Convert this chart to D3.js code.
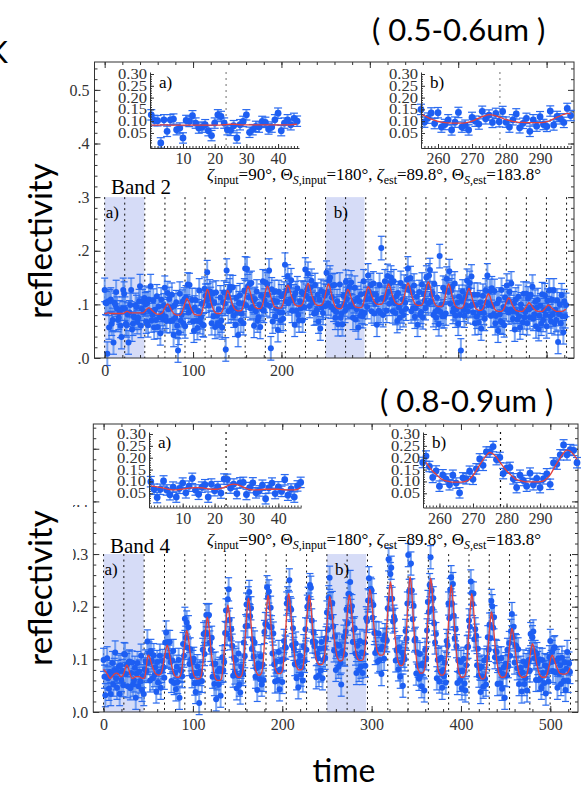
<!DOCTYPE html>
<html>
<head>
<meta charset="utf-8">
<title>Band 2 / Band 4 reflectivity</title>
<script src="https://cdn.jsdelivr.net/npm/d3@7/dist/d3.min.js"></script>
<style>
  body { margin: 0; background: #fff; }
  #chart svg { display: block; }
</style>
</head>
<body>
<div id="chart"></div>
<script>
// reflectivity per time step (t = 0, 1, 2, ...), in units of 0.001
const band2Refl = [
  127,103,102,8,106,57,106,109,64,71,29,103,99,123,92,71,75,85,60,39,
  92,127,120,92,64,61,81,29,85,99,127,53,64,78,75,99,95,67,75,106,
  134,60,92,106,85,112,100,68,102,61,109,88,134,70,80,107,57,90,71,115,
  58,96,76,46,109,82,72,98,131,77,69,121,91,110,69,94,118,70,43,98,
  75,104,60,14,47,120,70,80,105,65,109,59,113,96,137,85,136,88,90,108,
  68,51,94,108,70,56,87,126,67,76,101,62,61,129,116,107,160,117,98,124,
  110,65,120,78,104,58,122,79,65,91,61,113,70,57,104,122,101,16,163,115,
  87,126,133,88,94,132,79,93,62,113,85,43,102,117,70,83,102,65,126,167,
  98,166,134,113,138,93,140,95,107,60,110,87,124,70,76,100,58,116,91,143,
  88,107,141,100,137,118,163,97,18,128,68,107,123,78,92,106,52,123,85,70,
  115,85,73,120,174,106,126,152,102,135,109,145,88,107,115,62,121,88,130,80,
  70,106,93,122,70,120,94,165,116,128,157,111,97,132,144,103,110,83,136,84,
  90,118,68,109,55,125,94,84,122,116,97,159,122,102,144,150,96,113,135,90,
  136,75,86,106,63,96,137,75,83,63,116,100,88,142,110,126,95,133,98,141,
  96,75,106,131,72,91,112,57,106,79,119,86,78,143,84,120,110,95,154,124,
  110,136,87,119,139,83,102,118,62,109,88,136,84,205,112,80,110,143,114,88,
  153,123,101,139,150,110,87,143,102,84,115,69,121,94,75,140,87,109,80,133,
  103,92,146,167,127,130,149,87,122,93,135,77,93,114,62,101,123,80,86,137,
  76,120,107,93,150,133,102,154,164,106,118,121,80,138,86,75,113,90,63,190,
  86,100,78,131,78,124,83,148,126,123,162,101,126,133,86,93,139,79,91,103,
  64,114,80,14,107,124,90,79,114,98,144,87,129,140,97,152,100,85,118,65,
  99,77,118,66,84,104,55,94,116,84,73,126,104,154,99,101,125,79,130,97,
  81,125,65,79,102,51,109,81,68,127,66,95,61,113,91,135,106,85,123,90,
  139,87,73,102,53,109,86,72,114,78,57,100,90,66,120,76,86,120,65,111,
  91,76,118,94,133,73,81,105,59,94,108,54,79,98,64,119,71,89,117,80,
  59,107,93,126,78,68,109,81,126,65,90,71,107,30,82,100,65,117,78,48,
  106,78,99
];
const band2Model = [
  83,83,83,84,84,84,83,83,83,83,83,83,83,83,83,83,83,83,83,83,
  83,83,84,85,86,87,87,86,85,84,84,84,84,84,84,84,84,84,84,84,
  84,84,84,84,85,86,88,90,92,93,94,93,92,90,88,87,85,84,83,82,
  82,82,82,82,83,84,86,90,93,96,99,101,100,98,94,91,88,86,83,82,
  81,80,80,80,80,80,81,83,87,92,98,103,108,111,109,106,101,96,92,88,
  85,82,81,81,80,80,80,80,80,81,85,91,99,108,116,123,128,126,121,114,
  106,100,95,90,87,85,84,83,83,83,83,83,84,87,92,100,108,115,122,126,
  124,120,114,108,102,98,94,91,90,89,88,88,88,88,88,89,93,98,106,115,
  123,129,134,132,127,121,114,108,103,99,95,94,93,92,92,92,92,93,96,101,
  109,116,124,130,134,132,127,121,114,109,104,100,96,95,94,93,93,93,93,93,
  94,97,102,110,118,125,132,136,134,130,124,117,112,108,103,100,99,98,97,97,
  97,97,97,98,101,106,114,121,129,135,139,137,132,126,119,114,109,105,101,100,
  99,98,98,98,98,98,99,102,107,114,121,128,134,138,136,131,123,116,109,104,
  99,96,94,93,92,92,92,92,93,96,100,106,113,119,124,128,126,123,117,112,
  107,103,99,97,95,95,94,94,94,94,94,95,98,103,110,117,123,129,133,131,
  128,122,117,113,109,105,103,101,101,100,100,100,100,100,101,104,108,115,122,129,
  134,138,136,132,126,120,114,110,106,103,102,101,100,100,100,100,101,104,109,116,
  123,130,136,140,138,133,127,120,114,109,105,101,100,99,98,98,98,98,98,99,
  102,108,116,124,131,138,142,140,135,127,120,113,108,103,100,98,97,96,96,96,
  96,96,97,100,105,113,120,128,134,138,136,131,124,116,110,105,100,97,95,94,
  93,93,93,93,93,94,97,101,108,114,121,126,130,128,123,117,110,105,100,96,
  92,91,90,89,89,89,89,90,92,96,101,107,112,117,120,118,115,109,104,100,
  96,92,90,88,88,87,87,87,87,87,88,90,93,97,102,106,110,112,111,108,
  104,100,97,94,91,89,88,88,87,87,87,87,87,87,89,91,93,96,99,101,
  103,102,100,98,95,93,91,90,88,88,87,87,87,87,87,87,88,90,92,94,
  96,98,99,98,97,95,93,92,90,89,88,87,87,87,87,87,87,87,87,88,
  89,90,91
];
const band4Refl = [
  99,67,32,67,102,64,44,76,34,71,93,52,80,113,64,46,76,86,34,89,
  61,78,51,110,109,72,89,49,94,96,45,74,94,52,60,84,27,73,93,49,
  77,58,107,42,68,34,81,96,78,134,93,111,60,116,98,64,108,70,85,39,
  95,56,76,107,46,78,97,85,65,132,151,107,133,105,133,95,59,98,116,55,
  74,43,86,57,99,27,80,78,68,129,107,177,141,170,122,161,91,119,100,68,
  95,101,54,38,73,87,56,17,77,72,59,118,148,110,151,184,148,183,184,132,
  118,141,67,91,53,92,24,64,78,52,82,31,78,104,79,95,150,193,148,214,
  233,175,140,157,126,69,103,75,99,45,69,111,52,37,86,77,72,132,106,163,
  204,164,216,228,182,197,120,138,105,132,67,83,42,92,86,62,106,52,90,61,
  152,167,167,237,219,229,162,198,161,111,149,90,58,96,78,60,114,43,81,98,
  57,100,135,124,122,206,216,209,250,197,194,127,159,120,91,130,64,93,47,97,
  107,71,85,60,125,97,157,118,200,215,204,241,236,174,134,151,125,133,66,111,
  102,70,120,79,133,64,99,121,103,140,189,156,218,255,205,180,207,163,117,144,
  80,128,110,86,126,93,52,115,111,143,109,153,195,168,224,224,247,192,201,133,
  156,159,111,74,126,104,80,135,86,113,74,111,132,88,178,173,212,254,212,234,
  231,179,203,150,112,150,119,96,149,99,120,72,124,137,101,146,137,136,197,290,
  214,262,274,215,172,181,175,98,117,120,81,123,67,94,113,50,107,100,154,139,
  206,298,230,230,282,231,176,202,136,139,73,113,88,63,110,71,49,92,88,41,
  118,102,155,209,190,241,294,231,196,216,168,132,148,64,99,100,58,76,103,46,
  80,68,94,56,135,127,206,178,232,256,206,243,183,140,157,125,55,98,77,61,
  95,45,79,101,54,41,89,123,124,174,162,248,226,205,225,138,157,145,89,120,
  69,83,38,86,68,48,98,63,52,103,142,118,166,140,211,201,160,180,104,116,
  114,53,101,80,54,102,44,72,85,27,91,70,118,87,131,107,154,186,142,162,
  94,127,125,83,119,53,72,84,39,75,96,53,64,89,41,95,99,79,148,114,
  142,153,102,114,61,110,93,61,100,63,46,99,74,55,89,35,87,76,58,104,
  135,95,114,78,121,123,75,97,46,102,73,89,53,103,77,59,94,42,82,114,
  59,92,76
];
const band4Model = [
  81,79,77,75,72,69,66,64,64,66,68,70,72,73,74,74,73,71,69,67,
  67,68,71,75,81,87,89,87,82,76,70,66,64,64,65,66,67,67,67,67,
  67,66,65,64,64,64,66,74,88,102,108,106,102,96,90,84,80,76,73,72,
  71,70,70,71,72,76,83,93,103,113,121,127,124,117,108,98,89,82,76,71,
  68,67,66,66,66,67,69,75,86,102,118,133,146,155,150,140,126,111,98,88,
  78,70,67,65,63,63,63,63,64,67,75,89,110,131,151,168,180,174,161,142,
  122,106,92,79,70,65,62,60,60,60,60,61,64,74,91,117,143,167,189,203,
  196,181,159,137,118,103,88,77,71,69,66,66,66,66,68,71,81,99,126,153,
  179,201,216,209,193,169,146,125,109,93,82,76,73,70,70,70,72,75,85,103,
  131,158,184,207,222,215,198,174,150,130,113,97,85,79,76,73,73,73,73,75,
  78,88,106,134,161,187,210,225,218,202,179,155,135,119,103,92,86,83,80,80,
  80,80,81,84,94,111,137,162,187,208,222,215,201,180,159,140,126,111,101,95,
  93,90,90,90,90,91,94,103,118,142,165,187,206,219,213,199,180,160,143,130,
  117,107,102,99,97,97,97,98,101,110,125,147,170,191,210,222,216,202,182,162,
  145,131,118,108,103,100,98,98,98,98,99,102,112,128,152,176,199,220,233,227,
  213,193,173,156,142,128,118,113,110,108,108,108,108,109,112,122,139,164,189,212,
  233,247,239,222,196,171,148,131,113,101,94,91,88,88,88,90,93,105,125,156,
  186,215,240,257,248,228,198,169,144,123,103,89,81,78,74,74,74,74,76,79,
  92,114,146,178,209,236,254,245,225,195,166,140,120,99,85,77,74,70,70,70,
  70,72,75,87,108,138,169,198,224,241,232,213,185,157,133,113,94,80,73,70,
  66,66,66,66,68,71,82,101,130,158,185,209,225,217,199,173,147,125,107,89,
  76,69,66,63,63,63,64,67,76,91,114,137,158,177,190,184,170,150,130,113,
  99,86,76,71,68,66,66,66,66,67,69,75,86,103,120,136,150,159,154,144,
  129,114,101,91,81,73,70,68,66,66,66,66,67,68,72,80,92,103,114,124,
  130,127,120,110,99,90,83,76,71,69,67,66,66,66,66,67,70,75,83,90,
  98,104,108,106,102,96,91,86,82,78,75,73,73,72,72,72,72,72,73,74,
  76,80,84
];
// one error size per band (reflectivity units)
const band2Err = 0.022;
const band4Err = 0.022;

// dotted lines, shaded windows a) / b), and the time marked in each inset
const rotationTimes = [0, 22.7, 45.4, 68.2, 90.9, 113.6, 136.3, 159.0, 181.8, 204.5, 227.2, 249.9,
  272.6, 295.4, 318.1, 340.8, 363.5, 386.2, 409.0, 431.7, 454.4, 477.1, 499.8, 522.6];
const windowA = [0, 45];
const windowB = [250, 294];
const insetMarkA = 23.6;
const insetMarkB = 278.2;

const mainXTicks = [0, 100, 200, 300, 400, 500];
const mainYTicks = [0, 0.1, 0.2, 0.3, 0.4, 0.5];
const insetYTicks = [0.05, 0.10, 0.15, 0.20, 0.25, 0.30];
const insetATicks = [10, 20, 30, 40];
const insetBTicks = [260, 270, 280, 290];

const width = 583, height = 790;
const serif = "'Liberation Serif', 'Times New Roman', serif";
const sans = "Lato, 'Open Sans', sans-serif";
const dotBlue = "#1d5ef2", barBlue = "#5b90f0", capBlue = "#2a6af0", red = "#e5403c";

const svg = d3.select("#chart").append("svg")
    .attr("width", width)
    .attr("height", height);

const panels = [
  { name: "Band 2", refl: band2Refl, model: band2Model, err: band2Err,
    box: { left: 94.5, right: 574, top: 62, bottom: 358 }, yMax: 0.552,
    bandPos: [111, 194], paramPos: [207, 180], markColor: "#888",
    inset: { top: 72, bottom: 148, vMin: -0.0136, vMax: 0.3085,
      a: { x0: 150, x1: 299, t0: -0.4, t1: 46.6 }, b: { x0: 421, x1: 571, t0: 255, t1: 299.1 } } },
  { name: "Band 4", refl: band4Refl, model: band4Model, err: band4Err,
    box: { left: 93.3, right: 578, top: 424, bottom: 712 }, yMax: 0.547,
    bandPos: [110, 553], paramPos: [207, 545], markColor: "#111",
    inset: { top: 432, bottom: 507.5, vMin: -0.0099, vMax: 0.3084,
      a: { x0: 149, x1: 301, t0: -0.56, t1: 47.1 }, b: { x0: 423, x1: 577, t0: 255.1, t1: 301 } } }
];

function styleAxis(g, size) {
  g.attr("font-family", serif).attr("font-size", size).attr("color", "#333");
  g.select(".domain").remove();
}

function drawPoints(g, pts, x, y, err, r, cap) {
  g.append("g").selectAll("line").data(pts).join("line")
      .attr("x1", d => x(d.t)).attr("x2", d => x(d.t))
      .attr("y1", d => y(d.v - err)).attr("y2", d => y(d.v + err))
      .attr("stroke", barBlue).attr("stroke-width", 2).attr("stroke-opacity", 0.8);
  const caps = pts.flatMap(d => [{ t: d.t, v: d.v - err }, { t: d.t, v: d.v + err }]);
  g.append("g").selectAll("line").data(caps).join("line")
      .attr("x1", d => x(d.t) - cap).attr("x2", d => x(d.t) + cap)
      .attr("y1", d => y(d.v)).attr("y2", d => y(d.v))
      .attr("stroke", capBlue).attr("stroke-width", 1.2);
  g.append("g").selectAll("circle").data(pts).join("circle")
      .attr("cx", d => x(d.t)).attr("cy", d => y(d.v))
      .attr("r", r).attr("fill", dotBlue);
}

function drawMain(p) {
  const b = p.box;
  const x = d3.scaleLinear().domain([-11.5, 531]).range([b.left, b.right]);
  const y = d3.scaleLinear().domain([0, p.yMax]).range([b.bottom, b.top]);
  const g = svg.append("g");

  // shaded windows
  g.selectAll("rect.win").data([windowA, windowB]).join("rect")
      .attr("x", d => x(d[0])).attr("width", d => x(d[1]) - x(d[0]))
      .attr("y", y(0.3)).attr("height", y(0) - y(0.3))
      .attr("fill", "#d6dcf7");

  // rotation lines
  g.selectAll("line.rot").data(rotationTimes).join("line")
      .attr("x1", d => x(d)).attr("x2", d => x(d))
      .attr("y1", y(0.3)).attr("y2", y(0))
      .attr("stroke", "#111").attr("stroke-width", 1).attr("stroke-dasharray", "2,3.5");

  const pts = p.refl.map((v, i) => ({ t: i, v: v / 1000 }));
  drawPoints(g, pts, x, y, p.err, 3, 3.5);

  const line = d3.line().x((d, i) => x(i)).y(d => y(d / 1000)).curve(d3.curveMonotoneX);
  g.append("path").datum(p.model)
      .attr("d", line).attr("fill", "none")
      .attr("stroke", red).attr("stroke-width", 1.3);

  // axes, ticks pointing inward
  const minorY = d3.range(0, p.yMax, 0.02);
  const minorX = d3.range(0, 531, 20);
  g.append("g").attr("transform", `translate(${b.left},0)`)
      .call(d3.axisLeft(y).tickValues(mainYTicks).tickFormat(d3.format(".1f")).tickSizeInner(-6).tickSizeOuter(0).tickPadding(5))
      .call(a => styleAxis(a, 16));
  g.append("g").attr("transform", `translate(${b.left},0)`)
      .call(d3.axisLeft(y).tickValues(minorY).tickFormat("").tickSizeInner(-3).tickSizeOuter(0))
      .call(a => styleAxis(a, 16));
  g.append("g").attr("transform", `translate(${b.right},0)`)
      .call(d3.axisRight(y).tickValues(mainYTicks).tickFormat("").tickSizeInner(-6).tickSizeOuter(0))
      .call(a => styleAxis(a, 16));
  g.append("g").attr("transform", `translate(${b.right},0)`)
      .call(d3.axisRight(y).tickValues(minorY).tickFormat("").tickSizeInner(-3).tickSizeOuter(0))
      .call(a => styleAxis(a, 16));
  g.append("g").attr("transform", `translate(0,${b.bottom})`)
      .call(d3.axisBottom(x).tickValues(mainXTicks).tickFormat(d3.format("d")).tickSizeInner(-6).tickSizeOuter(0).tickPadding(7))
      .call(a => styleAxis(a, 16));
  g.append("g").attr("transform", `translate(0,${b.bottom})`)
      .call(d3.axisBottom(x).tickValues(minorX).tickFormat("").tickSizeInner(-3).tickSizeOuter(0))
      .call(a => styleAxis(a, 16));
  g.append("g").attr("transform", `translate(0,${b.top})`)
      .call(d3.axisTop(x).tickValues(mainXTicks).tickFormat("").tickSizeInner(-6).tickSizeOuter(0))
      .call(a => styleAxis(a, 16));
  g.append("g").attr("transform", `translate(0,${b.top})`)
      .call(d3.axisTop(x).tickValues(minorX).tickFormat("").tickSizeInner(-3).tickSizeOuter(0))
      .call(a => styleAxis(a, 16));

  g.append("rect")
      .attr("x", b.left).attr("y", b.top)
      .attr("width", b.right - b.left).attr("height", b.bottom - b.top)
      .attr("fill", "none").attr("stroke", "#333").attr("stroke-width", 1);

  // window labels
  g.selectAll("text.win").data([["a)", windowA[0], 1], ["b)", windowB[0], 8]]).join("text")
      .attr("x", d => x(d[1]) + d[2]).attr("y", y(0.3) + 21)
      .attr("font-family", serif).attr("font-size", 17)
      .text(d => d[0]);

  g.append("text")
      .attr("x", p.bandPos[0]).attr("y", p.bandPos[1])
      .attr("font-family", serif).attr("font-size", 21)
      .text(p.name);

  drawParams(g, p.paramPos[0], p.paramPos[1]);
}

function drawParams(g, px, py) {
  const t = g.append("text").attr("x", px).attr("y", py)
      .attr("font-family", serif).attr("font-size", 17);
  const parts = [
    ["ζ", "i"], ["input", "s"], ["=90°, ", "n"],
    ["Θ", "n"], ["S", "si"], [",input", "s"], ["=180°, ", "n"],
    ["ζ", "i"], ["est", "s"], ["=89.8°, ", "n"],
    ["Θ", "n"], ["S", "si"], [",est", "s"], ["=183.8°", "n"]
  ];
  let low = false;
  parts.forEach(([s, kind]) => {
    const sub = kind[0] === "s";
    const span = t.append("tspan").text(s);
    if (sub && !low) span.attr("dy", 4);
    if (!sub && low) span.attr("dy", -4);
    low = sub;
    if (sub) span.attr("font-size", 12);
    if (kind.includes("i")) span.attr("font-style", "italic");
  });
}

function drawInset(p, spec, ticks, mark, letter) {
  const ins = p.inset;
  const x = d3.scaleLinear().domain([spec.t0, spec.t1]).range([spec.x0, spec.x1]);
  const y = d3.scaleLinear().domain([ins.vMin, ins.vMax]).range([ins.bottom, ins.top]);
  const g = svg.append("g");

  g.append("line")
      .attr("x1", x(mark)).attr("x2", x(mark))
      .attr("y1", ins.top).attr("y2", ins.bottom)
      .attr("stroke", p.markColor).attr("stroke-width", 1.2).attr("stroke-dasharray", "2,4");

  const pts = p.refl.map((v, i) => ({ t: i, v: v / 1000 }))
      .filter(d => d.t >= spec.t0 - 0.3 && d.t <= spec.t1 + 0.3);
  drawPoints(g, pts, x, y, p.err, 3.4, 4);

  const seg = p.model.map((v, i) => [i, v])
      .filter(d => d[0] >= Math.ceil(spec.t0) && d[0] <= Math.floor(spec.t1));
  g.append("path").datum(seg)
      .attr("d", d3.line().x(d => x(d[0])).y(d => y(d[1] / 1000)).curve(d3.curveMonotoneX))
      .attr("fill", "none").attr("stroke", red).attr("stroke-width", 1.3);

  const yAxis = g.append("g").attr("transform", `translate(${spec.x0},0)`)
      .call(d3.axisLeft(y).tickValues(insetYTicks).tickFormat(d3.format(".2f")).tickSizeInner(-4).tickSizeOuter(0).tickPadding(3));
  yAxis.attr("font-family", serif).attr("font-size", 14).attr("color", "#333");
  yAxis.selectAll("text").attr("textLength", 29).attr("lengthAdjust", "spacingAndGlyphs");
  g.append("g").attr("transform", `translate(${spec.x0},0)`)
      .call(d3.axisLeft(y).tickValues(d3.range(0.01, 0.301, 0.01)).tickFormat("").tickSizeInner(-2).tickSizeOuter(0))
      .call(a => styleAxis(a, 13));

  const xAxis = g.append("g").attr("transform", `translate(0,${ins.bottom})`)
      .call(d3.axisBottom(x).tickValues(ticks).tickFormat(d3.format("d")).tickSizeInner(-4).tickSizeOuter(0).tickPadding(5));
  xAxis.attr("font-family", serif).attr("font-size", 16).attr("color", "#333");
  g.append("g").attr("transform", `translate(0,${ins.bottom})`)
      .call(d3.axisBottom(x).tickValues(d3.range(Math.ceil(spec.t0), spec.t1, 1)).tickFormat("").tickSizeInner(-2).tickSizeOuter(0))
      .call(a => styleAxis(a, 13));

  g.append("text")
      .attr("x", spec.x0 + 9).attr("y", ins.top + 16)
      .attr("font-family", serif).attr("font-size", 17)
      .text(letter);
}

panels.forEach(p => {
  drawMain(p);
  drawInset(p, p.inset.a, insetATicks, insetMarkA, "a)");
  drawInset(p, p.inset.b, insetBTicks, insetMarkB, "b)");
});

// text boxes of the slide sit on top of the figure
const covers = [[0, 134, 78, 240], [0, 440, 91, 65], [0, 505, 73, 215], [340, 361, 243, 59]];
svg.selectAll("rect.cover").data(covers).join("rect")
    .attr("x", d => d[0]).attr("y", d => d[1])
    .attr("width", d => d[2]).attr("height", d => d[3])
    .attr("fill", "#fff");

svg.append("text")
    .attr("x", 372).attr("y", 41)
    .attr("font-family", sans).attr("font-size", 31)
    .text("( 0.5-0.6um )");
svg.append("text")
    .attr("x", 380).attr("y", 412)
    .attr("font-family", sans).attr("font-size", 31)
    .text("( 0.8-0.9um )");
svg.append("text")
    .attr("x", -12).attr("y", 63)
    .attr("font-family", sans).attr("font-size", 30)
    .text("K");

[241, 588].forEach(cy => {
  svg.append("text")
      .attr("transform", `translate(52,${cy}) rotate(-90)`)
      .attr("text-anchor", "middle")
      .attr("font-family", sans).attr("font-size", 33)
      .text("reflectivity");
});

svg.append("text")
    .attr("x", 344).attr("y", 782)
    .attr("text-anchor", "middle")
    .attr("font-family", sans).attr("font-size", 32)
    .text("time");
</script>
</body>
</html>
